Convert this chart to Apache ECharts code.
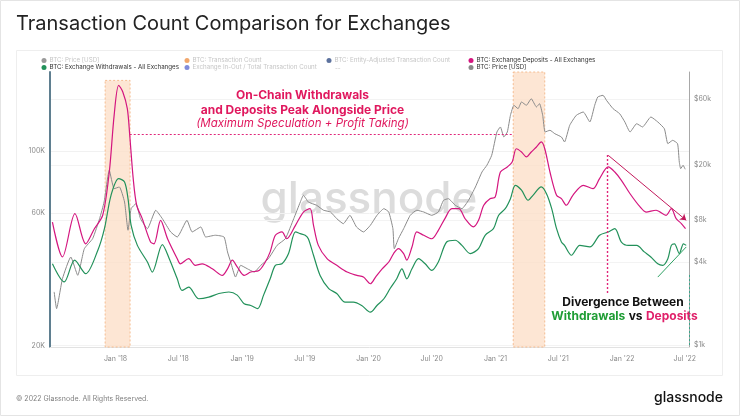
<!DOCTYPE html>
<html><head><meta charset="utf-8">
<script src="https://cdn.jsdelivr.net/npm/echarts@6/dist/echarts.min.js"></script>
<style>html,body{margin:0;padding:0;background:#fff;}#c{width:740px;height:416px;}</style>
</head><body><div id="c"></div>
<script>
// ---- data ----
const depositSeries = [['2017-07-03',55700],['2017-08-01',41700],['2017-09-06',59700],['2017-10-07',46500],['2017-11-01',52700],['2017-11-25',58900],['2017-12-14',84300],['2017-12-28',134800],['2018-01-10',172900],['2018-01-22',163600],['2018-02-04',142400],['2018-02-11',114200],['2018-02-21',79800],['2018-03-03',64000],['2018-03-19',57300],['2018-04-12',47200],['2018-04-22',46500],['2018-05-11',56500],['2018-05-31',48500],['2018-06-28',41100],['2018-07-07',39400],['2018-07-31',41100],['2018-08-19',38900],['2018-09-08',39400],['2018-10-07',37800],['2018-11-05',35800],['2018-11-20',37800],['2018-12-04',40600],['2018-12-18',38400],['2019-01-07',35800],['2019-01-26',36800],['2019-02-19',37300],['2019-03-09',40000],['2019-03-23',43500],['2019-04-07',49900],['2019-04-26',51300],['2019-05-10',48500],['2019-06-04',54200],['2019-06-27',60500],['2019-07-16',62200],['2019-07-26',54200],['2019-08-09',45900],['2019-09-03',41100],['2019-10-01',38900],['2019-10-31',36800],['2019-11-28',35800],['2019-12-17',35300],['2020-01-06',33400],['2020-01-21',35300],['2020-02-09',37800],['2020-02-28',40000],['2020-03-13',42900],['2020-03-27',44700],['2020-04-11',42900],['2020-04-20',40600],['2020-05-05',45300],['2020-05-19',51300],['2020-06-08',49900],['2020-07-01',48500],['2020-07-20',52000],['2020-08-08',57300],['2020-08-28',62200],['2020-09-17',62200],['2020-10-05',57300],['2020-10-29',53500],['2020-11-13',56500],['2020-11-28',64000],['2020-12-16',67600],['2020-12-31',68500],['2021-01-15',84300],['2021-02-04',87900],['2021-02-18',91600],['2021-03-02',102200],['2021-03-17',99500],['2021-03-31',95500],['2021-04-14',99500],['2021-04-29',103700],['2021-05-13',108100],['2021-05-23',102200],['2021-06-07',84300],['2021-06-26',69500],['2021-07-10',67600],['2021-07-24',64000],['2021-08-12',69500],['2021-09-11',75500],['2021-10-09',73400],['2021-10-28',79800],['2021-11-22',87900],['2021-12-11',84300],['2021-12-30',78700],['2022-01-24',70400],['2022-02-22',63100],['2022-03-11',60500],['2022-04-09',61400],['2022-05-08',58900],['2022-05-23',62200],['2022-06-06',57300],['2022-06-21',55000],['2022-07-03',52700]];

const withdrawalSeries = [['2017-07-03',39400],['2017-08-06',33900],['2017-09-05',40600],['2017-10-07',36300],['2017-11-11',44100],['2017-11-30',52700],['2017-12-19',69500],['2018-01-10',79800],['2018-01-27',77600],['2018-02-06',67600],['2018-02-15',54200],['2018-03-05',45900],['2018-04-03',40000],['2018-04-17',36800],['2018-05-16',46200],['2018-06-05',41100],['2018-06-28',34800],['2018-07-12',31600],['2018-07-31',32500],['2018-08-29',29500],['2018-09-27',29900],['2018-10-26',30800],['2018-11-24',31200],['2018-12-18',30400],['2019-01-07',28300],['2019-01-26',27900],['2019-02-15',27200],['2019-03-04',30400],['2019-03-23',34800],['2019-04-07',38900],['2019-04-26',39400],['2019-05-15',42900],['2019-06-04',51300],['2019-06-18',50600],['2019-07-02',49900],['2019-07-11',48500],['2019-07-26',42300],['2019-08-14',35800],['2019-09-08',32100],['2019-10-01',30800],['2019-10-25',28700],['2019-11-18',28700],['2019-12-12',27900],['2020-01-06',26400],['2020-01-25',27900],['2020-02-14',29500],['2020-03-03',32100],['2020-03-22',34800],['2020-04-06',37800],['2020-04-20',34800],['2020-05-05',37800],['2020-05-24',41100],['2020-06-12',39400],['2020-07-01',37300],['2020-07-20',40000],['2020-08-13',47200],['2020-09-07',47900],['2020-09-26',45900],['2020-10-20',42900],['2020-11-13',44700],['2020-12-02',49900],['2020-12-26',52700],['2021-01-10',58900],['2021-01-29',62200],['2021-02-13',67600],['2021-02-27',75500],['2021-03-17',72500],['2021-04-05',66700],['2021-04-19',69500],['2021-05-13',74500],['2021-05-28',70400],['2021-06-12',62200],['2021-06-26',52700],['2021-07-10',47200],['2021-07-19',45900],['2021-08-08',42300],['2021-09-01',45900],['2021-09-30',45300],['2021-10-28',49900],['2021-11-22',51300],['2021-12-11',52700],['2021-12-30',47200],['2022-01-19',45900],['2022-02-12',45900],['2022-03-06',43500],['2022-03-25',41700],['2022-04-14',39400],['2022-04-28',38900],['2022-05-13',41100],['2022-05-23',45900],['2022-06-01',46500],['2022-06-15',42900],['2022-06-27',46500],['2022-07-05',45900]];

const priceSeries = [['2017-07-08',2430],['2017-07-15',1840],['2017-08-01',3030],['2017-08-25',4340],['2017-09-14',3200],['2017-10-03',4980],['2017-10-27',5890],['2017-11-16',8210],['2017-11-29',10830],['2017-12-14',18340],['2017-12-28',13510],['2018-01-12',13900],['2018-01-27',10830],['2018-02-06',6770],['2018-02-15',9690],['2018-03-01',10530],['2018-03-14',8210],['2018-04-03',6950],['2018-04-27',9440],['2018-05-16',8210],['2018-06-09',6580],['2018-06-28',6050],['2018-07-26',7990],['2018-08-10',6580],['2018-09-04',7150],['2018-09-18',6050],['2018-10-16',6230],['2018-11-10',6050],['2018-11-20',4720],['2018-11-29',4000],['2018-12-13',3110],['2018-12-28',3780],['2019-01-16',3570],['2019-02-05',3380],['2019-02-24',3780],['2019-03-18',4220],['2019-04-12',5270],['2019-05-06',5890],['2019-05-30',8210],['2019-06-18',10830],['2019-06-27',12110],['2019-07-11',10830],['2019-08-04',10250],['2019-08-24',9440],['2019-09-13',9170],['2019-10-01',8210],['2019-10-20',7550],['2019-11-08',8680],['2019-11-27',7150],['2019-12-17',6580],['2020-01-06',7350],['2020-01-25',8680],['2020-02-14',9690],['2020-02-28',9170],['2020-03-11',6950],['2020-03-15',4980],['2020-03-27',5890],['2020-04-11',6950],['2020-04-30',8680],['2020-05-19',9440],['2020-06-08',9170],['2020-07-01',8680],['2020-07-20',9170],['2020-08-04',11140],['2020-08-18',11440],['2020-09-07',10250],['2020-09-26',9690],['2020-10-15',11140],['2020-11-04',13900],['2020-11-23',17840],['2020-12-07',19940],['2020-12-21',23540],['2021-01-05',34670],['2021-01-15',37700],['2021-01-25',31900],['2021-02-04',34670],['2021-02-13',45780],['2021-02-23',54070],['2021-03-07',51100],['2021-03-17',57100],['2021-03-31',54070],['2021-04-14',60300],['2021-04-29',52600],['2021-05-08',55500],['2021-05-17',45780],['2021-05-24',34670],['2021-06-07',35670],['2021-06-21',33700],['2021-07-10',31900],['2021-07-19',29370],['2021-08-03',38770],['2021-08-22',45780],['2021-09-11',48360],['2021-09-30',40960],['2021-10-14',54070],['2021-10-23',62070],['2021-11-07',63800],['2021-11-17',58700],['2021-12-06',51100],['2021-12-25',47000],['2022-01-09',40960],['2022-01-24',34670],['2022-02-12',39800],['2022-03-01',37700],['2022-03-25',44500],['2022-04-14',40960],['2022-05-03',36600],['2022-05-13',28550],['2022-05-27',30200],['2022-06-10',28550],['2022-06-15',21060],['2022-06-19',18840],['2022-06-26',19940],['2022-07-02',18660]];

const xTickDates = ['2018-01-01','2018-07-01','2019-01-01','2019-07-01','2020-01-01','2020-07-01','2021-01-01','2021-07-01','2022-01-01','2022-07-01'];
const countTicks = [20000, 60000, 100000];
const priceTicks = [1000, 4000, 8000, 20000, 60000];
const highlightBands = [['2017-12-02','2018-02-12'],['2021-02-21','2021-05-23']];
const band1Top = 180000;
const peakLevel = 114800;
const peakLineSpan = ['2018-02-11','2021-02-18'];
const divergenceMark = [['2021-11-20', 97100], ['2021-11-20', 30800]];
const depositTrend = [['2021-11-22',96800],['2022-07-05',56500]];
const withdrawalTrend = [['2022-04-14',35300],['2022-07-05',45300]];
const monthNames = ['Jan','Feb','Mar','Apr','May','Jun','Jul','Aug','Sep','Oct','Nov','Dec'];

const xMin = '2017-06-26', xMax = '2022-07-13';
const countMin = 19780, countMax = 193000;
const priceMin = 972, priceMax = 94000;

const PINK = '#d4167f', GREEN = '#22915a', GRAY = '#8a8a8a';
const TEXT_PINK = '#e0185e', FADED = '#c6c6c6', GUIDE_PINK = '#e0267a';
const FONT = 'Inter, "Noto Sans", sans-serif';

function ts(s){ const p = s.split('-').map(Number); return Date.UTC(p[0], p[1]-1, p[2]); }
function toPoints(arr){ return arr.map(function(d){ return [ts(d[0]), d[1]]; }); }

const chart = echarts.init(document.getElementById('c'), null, {renderer:'canvas'});

function legendBox(name, left, top, faded){
  return {
    left: left, top: top, padding: 0, itemWidth: 5, itemHeight: 5, itemGap: 0,
    selectedMode: false, icon: 'circle',
    textStyle: {fontSize: 6.2, fontFamily: FONT, color: faded ? FADED : '#333', padding: [0,0,0,-2]},
    data: [{name: name, itemStyle: {opacity: faded ? 0.75 : 1}}]
  };
}
function guide(a, b, color, type){
  const ls = {color: color, width: 1, type: type, opacity: 1};
  return [{coord: a, lineStyle: ls}, {coord: b, lineStyle: ls}];
}

const option = {
  animation: false,
  textStyle: {fontFamily: FONT},
  grid: {left: 50, right: 51, top: 72, bottom: 69},
  legend: [
    legendBox('BTC: Price [USD] ', 41.5, 57.5, true),
    legendBox('BTC: Transaction Count', 184.5, 57.5, true),
    legendBox('BTC: Entity-Adjusted Transaction Count', 326.5, 57.5, true),
    legendBox('BTC: Exchange Deposits - All Exchanges', 468.5, 57.5, false),
    legendBox('BTC: Exchange Withdrawals - All Exchanges', 41.5, 64.5, false),
    legendBox('Exchange In-Out / Total Transaction Count', 184.5, 64.5, true),
    legendBox('BTC: Price [USD]', 468.5, 64.5, false)
  ],
  xAxis: {
    type: 'value', min: ts(xMin), max: ts(xMax), scale: true,
    axisLine: {show: true, onZero: false, lineStyle: {color: '#e2e2e2', width: 1}},
    axisTick: {show: false, customValues: xTickDates.map(ts)},
    splitLine: {show: false},
    axisLabel: {
      customValues: xTickDates.map(ts),
      color: '#8a8a8a', fontSize: 7, margin: 8, fontFamily: FONT,
      formatter: function(v){ const d = new Date(v); return monthNames[d.getUTCMonth()] + " '" + String(d.getUTCFullYear()).slice(2); }
    }
  },
  yAxis: [
    {
      type: 'log', logBase: 10, min: countMin, max: countMax, position: 'left',
      axisLine: {show: true, lineStyle: {color: '#5f7f90', width: 2}},
      axisTick: {show: false, customValues: countTicks},
      splitLine: {show: true, lineStyle: {color: '#f1f1f1', width: 1}},
      axisLabel: {customValues: countTicks, color: '#8a8a8a', fontSize: 7, margin: 5, fontFamily: FONT,
        formatter: function(v){ return Math.round(v/1000) + 'K'; }}
    },
    {
      type: 'log', logBase: 10, min: priceMin, max: priceMax, position: 'right',
      axisLine: {show: true, lineStyle: {color: '#a8a8a8', width: 1}},
      axisTick: {show: false, customValues: priceTicks},
      splitLine: {show: true, lineStyle: {color: '#f3f3f3', width: 1}},
      axisLabel: {customValues: priceTicks, color: '#8a8a8a', fontSize: 7, margin: 5, fontFamily: FONT,
        formatter: function(v){ return '$' + Math.round(v/1000) + 'k'; }}
    }
  ],
  series: [
    {name: 'BTC: Price [USD] ', type: 'line', data: [], color: '#777'},
    {name: 'BTC: Transaction Count', type: 'line', data: [], color: '#ec8a3c'},
    {name: 'BTC: Entity-Adjusted Transaction Count', type: 'line', data: [], color: '#27437e'},
    {name: 'Exchange In-Out / Total Transaction Count', type: 'line', data: [], color: '#5566cf'},
    {
      name: 'BTC: Price [USD]', type: 'line', yAxisIndex: 1, data: toPoints(priceSeries),
      color: GRAY, showSymbol: false, z: 2, smooth: 0.15,
      lineStyle: {color: GRAY, width: 1}
    },
    {
      name: 'BTC: Exchange Withdrawals - All Exchanges', type: 'line', yAxisIndex: 0, data: toPoints(withdrawalSeries),
      color: GREEN, showSymbol: false, z: 3, smooth: 0.3,
      lineStyle: {color: GREEN, width: 1.2},
      markLine: {
        silent: true, symbol: ['none','none'], label: {show: false},
        lineStyle: {color: '#2ea063', width: 1},
        data: [
          guide([ts(withdrawalTrend[0][0]), withdrawalTrend[0][1]], [ts(withdrawalTrend[1][0]), withdrawalTrend[1][1]], '#2ea063', 'solid'),
          guide([ts(xMax), 35900], [ts(xMax), countMin], '#3aa58a', [2,2])
        ]
      }
    },
    {
      name: 'divergence-marker', type: 'line', yAxisIndex: 0, data: toPoints(divergenceMark),
      showSymbol: false, silent: true, z: 5, legendHoverLink: false,
      lineStyle: {color: GUIDE_PINK, width: 1.4, type: [2,2]}
    },
    {
      name: 'BTC: Exchange Deposits - All Exchanges', type: 'line', yAxisIndex: 0, data: toPoints(depositSeries),
      color: PINK, showSymbol: false, z: 4, smooth: 0.3,
      lineStyle: {color: PINK, width: 1.2},
      markArea: {
        silent: true,
        itemStyle: {color: 'rgba(252,222,198,0.75)', borderColor: '#f2b07c', borderWidth: 0.8, borderType: [2,2]},
        data: [
          [{xAxis: ts(highlightBands[0][0]), yAxis: band1Top}, {xAxis: ts(highlightBands[0][1]), yAxis: countMin}],
          [{xAxis: ts(highlightBands[1][0]), yAxis: countMax}, {xAxis: ts(highlightBands[1][1]), yAxis: countMin}]
        ]
      },
      markLine: {
        silent: true, symbol: ['none','none'], symbolSize: 6, label: {show: false},
        lineStyle: {color: GUIDE_PINK, width: 1, type: [2,2]},
        data: [
          guide([ts(peakLineSpan[0]), peakLevel], [ts(peakLineSpan[1]), peakLevel], GUIDE_PINK, [2,2]),
          (function(){ const g = guide([ts(depositTrend[0][0]), depositTrend[0][1]], [ts(depositTrend[1][0]), depositTrend[1][1]], '#c2185b', 'solid'); g[0].symbol = 'none'; g[1].symbol = 'arrow'; return g; })()
        ]
      }
    }
  ],
  graphic: [
    {type: 'rect', z: -10, silent: true, shape: {x: 0.5, y: 0.5, width: 739, height: 415}, style: {fill: 'none', stroke: '#e4e4e4', lineWidth: 1}},
    {type: 'rect', z: -10, silent: true, shape: {x: 16.5, y: 50.5, width: 706, height: 325}, style: {fill: 'none', stroke: '#eeeeee', lineWidth: 1}},
    {type: 'text', silent: true, x: 16, y: 24, style: {text: 'Transaction Count Comparison for Exchanges', fontSize: 20, fontFamily: FONT, fill: '#222', verticalAlign: 'middle'}},
    {type: 'text', silent: true, x: 335, y: 67.7, style: {text: '--', fontSize: 6.2, fontFamily: FONT, fill: FADED, verticalAlign: 'middle'}},
    {type: 'text', silent: true, z: 0, x: 369, y: 222, style: {text: 'glassnode', fontSize: 44, fontFamily: FONT, fontWeight: 500, fill: '#dcdcdc', align: 'center', verticalAlign: 'bottom'}},
    {type: 'text', silent: true, z: 10, x: 302.5, y: 95, style: {text: 'On-Chain Withdrawals', fontSize: 12, fontWeight: 'bold', fontFamily: FONT, fill: TEXT_PINK, align: 'center', verticalAlign: 'middle'}},
    {type: 'text', silent: true, z: 10, x: 302.5, y: 110, style: {text: 'and Deposits Peak Alongside Price', fontSize: 12, fontWeight: 'bold', fontFamily: FONT, fill: TEXT_PINK, align: 'center', verticalAlign: 'middle'}},
    {type: 'text', silent: true, z: 10, x: 302.5, y: 123.5, style: {text: '(Maximum Speculation + Profit Taking)', fontSize: 11.5, fontStyle: 'italic', fontFamily: FONT, fill: TEXT_PINK, align: 'center', verticalAlign: 'middle'}},
    {type: 'text', silent: true, z: 10, x: 623, y: 302.7, style: {text: 'Divergence Between', fontSize: 12, fontWeight: 'bold', fontFamily: FONT, fill: '#111', align: 'center', verticalAlign: 'middle'}},
    {type: 'text', silent: true, z: 10, x: 624.5, y: 316.7, style: {
      text: '{g|Withdrawals} {k|vs} {p|Deposits}', align: 'center', verticalAlign: 'middle',
      rich: {
        g: {fontSize: 12, fontWeight: 'bold', fontFamily: FONT, fill: '#1f9d35', color: '#1f9d35'},
        k: {fontSize: 12, fontWeight: 'bold', fontFamily: FONT, fill: '#111', color: '#111'},
        p: {fontSize: 12, fontWeight: 'bold', fontFamily: FONT, fill: '#e0206a', color: '#e0206a'}
      }}},
    {type: 'text', silent: true, x: 16, y: 399, style: {text: '\u00a9 2022 Glassnode. All Rights Reserved.', fontSize: 7, fontFamily: FONT, fill: '#808080', verticalAlign: 'middle'}},
    {type: 'text', silent: true, x: 723, y: 398, style: {text: 'glassnode', fontSize: 14, fontWeight: 500, fontFamily: FONT, fill: '#111', align: 'right', verticalAlign: 'middle'}}
  ]
};
chart.setOption(option);
</script>
</body></html>
